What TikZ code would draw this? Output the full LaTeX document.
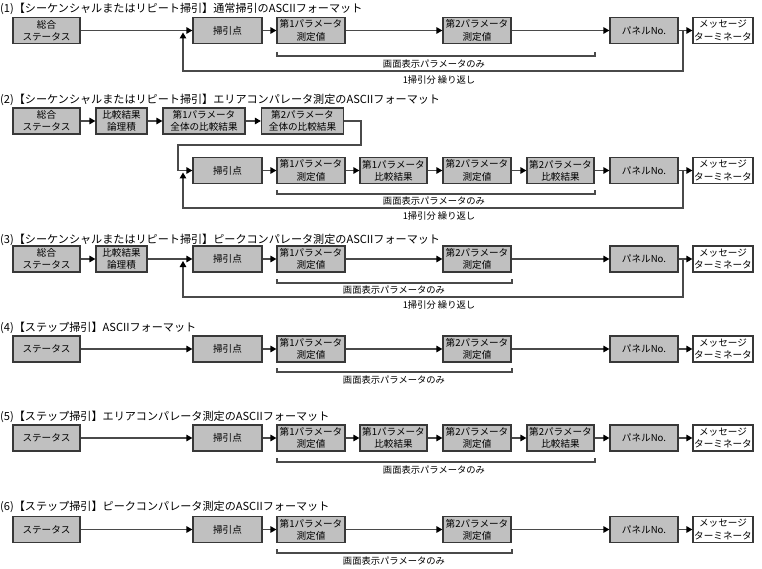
\documentclass[tikz,border=0pt]{standalone}
\usepackage{fontspec}
\setmainfont{Noto Sans CJK JP}
\usetikzlibrary{arrows.meta}
\definecolor{boxfill}{HTML}{C0C0C0}
\definecolor{boxline}{HTML}{383838}
\definecolor{wire}{HTML}{4A4A4A}
\tikzset{
  box/.style={draw=boxline, fill=boxfill, line width=1.2pt, minimum height=26pt, inner sep=0pt, align=center, font=\fontsize{9.6}{12.3}\selectfont},
  wbox/.style={box, fill=white},
  wst/.style={box, minimum width=67pt},
  wlog/.style={box, minimum width=51pt},
  wall/.style={box, minimum width=82pt},
  wswp/.style={box, minimum width=69pt},
  wm/.style={box, minimum width=68pt},
  wc/.style={box, minimum width=67pt},
  wmsg/.style={wbox, minimum width=60pt},
  conn/.style={draw=wire, line width=1.2pt, -{Triangle[length=6pt,width=6.5pt,color=black]}},
  brk/.style={draw=wire, line width=1.1pt},
  ttl/.style={anchor=west, inner sep=0pt, font=\fontsize{11.1}{13}\selectfont},
  lbl/.style={inner sep=0pt, font=\fontsize{9.3}{11}\selectfont},
}
\begin{document}
\begin{tikzpicture}[x=1pt, y=-1pt]
\useasboundingbox[fill=white] (0,0) rectangle (762,569);

% ---------- (1)
\node[ttl] (t1) at (0,8.5) {(1)【シーケンシャルまたはリピート掃引】通常掃引のASCIIフォーマット};
\node[wst] (a1) at (46.5,30.5) {総合\\ステータス};
\node[wswp] (a2) at (227.5,30.5) {掃引点};
\node[wm] (a3) at (311,30.5) {第1パラメータ\\測定値};
\node[wm] (a4) at (477,30.5) {第2パラメータ\\測定値};
\node[wm] (a5) at (644,30.5) {パネルNo.};
\node[wmsg] (a6) at (723,30.5) {メッセージ\\ターミネータ};
\draw[conn] (a1) -- (a2);
\draw[conn] (a2) -- (a3);
\draw[conn] (a3) -- (a4);
\draw[conn] (a4) -- (a5);
\draw[conn] (a5) -- (a6);
\coordinate (a56) at (683,30.5);
\coordinate (la1) at (683,71);
\coordinate (la2) at (183,71);
\coordinate (la3) at (183,32.5);
\draw[conn] (a56) -- (la1) -- (la2) -- (la3);
\draw[brk] (277,52) -- (277,56) -- (595,56) -- (595,52);
\node[lbl] (ab) at (434,63.5) {画面表示パラメータのみ};
\node[lbl] (ar) at (439,80) {1掃引分 繰り返し};

% ---------- (2)
\node[ttl] (t2) at (0,100) {(2)【シーケンシャルまたはリピート掃引】エリアコンパレータ測定のASCIIフォーマット};
\node[wst] (b1) at (46.5,121) {総合\\ステータス};
\node[wlog] (b2) at (121.5,121) {比較結果\\論理積};
\node[wall] (b3) at (204,121) {第1パラメータ\\全体の比較結果};
\node[wall] (b4) at (302.5,121) {第2パラメータ\\全体の比較結果};
\draw[conn] (b1) -- (b2);
\draw[conn] (b2) -- (b3);
\draw[conn] (b3) -- (b4);
\node[wswp] (c1) at (227.5,170.5) {掃引点};
\node[wm] (c2) at (311,170.5) {第1パラメータ\\測定値};
\node[wc] (c3) at (393.5,170.5) {第1パラメータ\\比較結果};
\node[wm] (c4) at (477,170.5) {第2パラメータ\\測定値};
\node[wc] (c5) at (560.5,170.5) {第2パラメータ\\比較結果};
\node[wm] (c6) at (644,170.5) {パネルNo.};
\node[wmsg] (c7) at (723,170.5) {メッセージ\\ターミネータ};
\coordinate (bw1) at (361,121);
\coordinate (bw2) at (361,145);
\coordinate (bw3) at (178,145);
\coordinate (bw4) at (178,170.5);
\draw[conn] (b4.east) -- (bw1) -- (bw2) -- (bw3) -- (bw4) -- (c1.west);
\draw[conn] (c1) -- (c2);
\draw[conn] (c2) -- (c3);
\draw[conn] (c3) -- (c4);
\draw[conn] (c4) -- (c5);
\draw[conn] (c5) -- (c6);
\draw[conn] (c6) -- (c7);
\coordinate (c67) at (683,170.5);
\coordinate (lc1) at (683,208);
\coordinate (lc2) at (183,208);
\coordinate (lc3) at (183,172.5);
\draw[conn] (c67) -- (lc1) -- (lc2) -- (lc3);
\draw[brk] (277,190) -- (277,194) -- (595,194) -- (595,190);
\node[lbl] (cb) at (434,201) {画面表示パラメータのみ};
\node[lbl] (cr) at (439,215.5) {1掃引分 繰り返し};

% ---------- (3)
\node[ttl] (t3) at (0,240) {(3)【シーケンシャルまたはリピート掃引】ピークコンパレータ測定のASCIIフォーマット};
\node[wst] (d1) at (46.5,259) {総合\\ステータス};
\node[wlog] (d2) at (121.5,259) {比較結果\\論理積};
\node[wswp] (d3) at (227.5,259) {掃引点};
\node[wm] (d4) at (311,259) {第1パラメータ\\測定値};
\node[wm] (d5) at (477,259) {第2パラメータ\\測定値};
\node[wm] (d6) at (644,259) {パネルNo.};
\node[wmsg] (d7) at (723,259) {メッセージ\\ターミネータ};
\draw[conn] (d1) -- (d2);
\draw[conn] (d2) -- (d3);
\draw[conn] (d3) -- (d4);
\draw[conn] (d4) -- (d5);
\draw[conn] (d5) -- (d6);
\draw[conn] (d6) -- (d7);
\coordinate (d67) at (683,259);
\coordinate (ld1) at (683,297);
\coordinate (ld2) at (183,297);
\coordinate (ld3) at (183,261);
\draw[conn] (d67) -- (ld1) -- (ld2) -- (ld3);
\draw[brk] (277,279) -- (277,283) -- (512,283) -- (512,279);
\node[lbl] (db) at (394,289.5) {画面表示パラメータのみ};
\node[lbl] (dr) at (439,304.5) {1掃引分 繰り返し};

% ---------- (4)
\node[ttl] (t4) at (0,328) {(4)【ステップ掃引】ASCIIフォーマット};
\node[wst] (e1) at (46.5,349) {ステータス};
\node[wswp] (e2) at (227.5,349) {掃引点};
\node[wm] (e3) at (311,349) {第1パラメータ\\測定値};
\node[wm] (e4) at (477,349) {第2パラメータ\\測定値};
\node[wm] (e5) at (644,349) {パネルNo.};
\node[wmsg] (e6) at (723,349) {メッセージ\\ターミネータ};
\draw[conn] (e1) -- (e2);
\draw[conn] (e2) -- (e3);
\draw[conn] (e3) -- (e4);
\draw[conn] (e4) -- (e5);
\draw[conn] (e5) -- (e6);
\draw[brk] (277,368) -- (277,372) -- (512,372) -- (512,368);
\node[lbl] (eb) at (394,379.5) {画面表示パラメータのみ};

% ---------- (5)
\node[ttl] (t5) at (0,417) {(5)【ステップ掃引】エリアコンパレータ測定のASCIIフォーマット};
\node[wst] (f1) at (46.5,438) {ステータス};
\node[wswp] (f2) at (227.5,438) {掃引点};
\node[wm] (f3) at (311,438) {第1パラメータ\\測定値};
\node[wc] (f4) at (393.5,438) {第1パラメータ\\比較結果};
\node[wm] (f5) at (477,438) {第2パラメータ\\測定値};
\node[wc] (f6) at (560.5,438) {第2パラメータ\\比較結果};
\node[wm] (f7) at (644,438) {パネルNo.};
\node[wmsg] (f8) at (723,438) {メッセージ\\ターミネータ};
\draw[conn] (f1) -- (f2);
\draw[conn] (f2) -- (f3);
\draw[conn] (f3) -- (f4);
\draw[conn] (f4) -- (f5);
\draw[conn] (f5) -- (f6);
\draw[conn] (f6) -- (f7);
\draw[conn] (f7) -- (f8);
\draw[brk] (277,458) -- (277,462) -- (595,462) -- (595,458);
\node[lbl] (fb) at (434,469.5) {画面表示パラメータのみ};

% ---------- (6)
\node[ttl] (t6) at (0,507) {(6)【ステップ掃引】ピークコンパレータ測定のASCIIフォーマット};
\node[wst] (g1) at (46.5,529.5) {ステータス};
\node[wswp] (g2) at (227.5,529.5) {掃引点};
\node[wm] (g3) at (311,529.5) {第1パラメータ\\測定値};
\node[wm] (g4) at (477,529.5) {第2パラメータ\\測定値};
\node[wm] (g5) at (644,529.5) {パネルNo.};
\node[wmsg] (g6) at (723,529.5) {メッセージ\\ターミネータ};
\draw[conn] (g1) -- (g2);
\draw[conn] (g2) -- (g3);
\draw[conn] (g3) -- (g4);
\draw[conn] (g4) -- (g5);
\draw[conn] (g5) -- (g6);
\draw[brk] (277,549) -- (277,553) -- (512,553) -- (512,549);
\node[lbl] (gb) at (394,560.5) {画面表示パラメータのみ};
\end{tikzpicture}
\end{document}
